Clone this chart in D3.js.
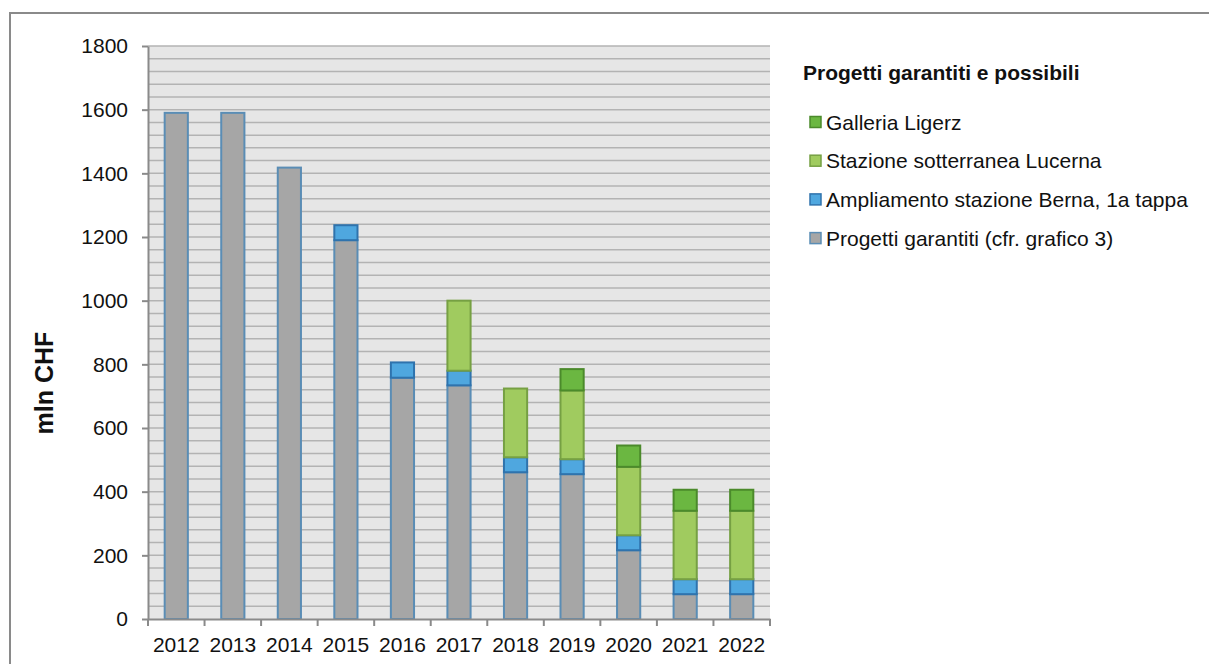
<!DOCTYPE html>
<html>
<head>
<meta charset="utf-8">
<script src="https://cdn.jsdelivr.net/npm/d3@7"></script>
<style>
  body { margin: 0; background: #fff; }
  text { font-family: "Liberation Sans", Arial, sans-serif; fill: #111; }
</style>
</head>
<body>
<div id="chart"></div>
<script>
// chart data
let years = ["2012", "2013", "2014", "2015", "2016", "2017", "2018", "2019", "2020", "2021", "2022"];
let garantiti = [1590, 1590, 1418, 1190, 758, 734, 461, 455, 216, 78, 78];
let berna = [0, 0, 0, 47, 48, 46, 47, 47, 47, 47, 47];
let lucerna = [0, 0, 0, 0, 0, 220, 216, 216, 215, 215, 215];
let ligerz = [0, 0, 0, 0, 0, 0, 0, 67, 67, 66, 66];
let yTicks = [0, 200, 400, 600, 800, 1000, 1200, 1400, 1600, 1800];

let seriesNames = ["Progetti garantiti (cfr. grafico 3)", "Ampliamento stazione Berna, 1a tappa", "Stazione sotterranea Lucerna", "Galleria Ligerz"];
let seriesFill = ["#a6a6a6", "#4fa7df", "#a0cb5f", "#6bb741"];
let seriesStroke = ["#5a8db5", "#2f73ad", "#76a043", "#4b8a2b"];

let width = 1209, height = 664;
let plot = {left: 148, right: 770, top: 46, bottom: 619};
let fontSize = "21px";

let svg = d3.select("#chart").append("svg")
    .attr("width", width)
    .attr("height", height);

// outer frame (right and bottom edges fall outside the picture)
svg.append("rect")
    .attr("x", 10).attr("y", 13)
    .attr("width", 1205).attr("height", 660)
    .attr("fill", "none")
    .attr("stroke", "#8a8a8a")
    .attr("stroke-width", 2);

let x = d3.scaleBand().domain(years).range([plot.left, plot.right]).paddingInner(0.59).paddingOuter(0.295);
let xb = d3.scaleBand().domain(years).range([plot.left, plot.right]);
let y = d3.scaleLinear().domain([0, 1800]).range([plot.bottom, plot.top]);

svg.append("rect")
    .attr("x", plot.left).attr("y", plot.top)
    .attr("width", plot.right - plot.left).attr("height", plot.bottom - plot.top)
    .attr("fill", "#e6e6e6");

// gridlines every 40
svg.append("g")
    .selectAll("line")
    .data(d3.range(40, 1801, 40))
    .enter().append("line")
    .attr("x1", plot.left).attr("x2", plot.right)
    .attr("y1", function(d) { return y(d); })
    .attr("y2", function(d) { return y(d); })
    .attr("stroke", "#b3b3b3")
    .attr("stroke-width", 1.5);

// stack the series
let table = years.map(function(yr, i) {
    return {year: yr, s0: garantiti[i], s1: berna[i], s2: lucerna[i], s3: ligerz[i]};
});
let stack = d3.stack().keys(["s0", "s1", "s2", "s3"])(table);

stack.forEach(function(layer, k) {
    svg.append("g")
        .selectAll("rect")
        .data(layer.filter(function(d) { return d[1] > d[0]; }))
        .enter().append("rect")
        .attr("x", function(d) { return x(d.data.year); })
        .attr("width", x.bandwidth())
        .attr("y", function(d) { return y(d[1]); })
        .attr("height", function(d) { return y(d[0]) - y(d[1]); })
        .attr("fill", seriesFill[k])
        .attr("stroke", seriesStroke[k])
        .attr("stroke-width", 2);
});

// y axis
let yAxis = svg.append("g")
    .attr("transform", "translate(" + plot.left + ",0)")
    .call(d3.axisLeft(y).tickValues(yTicks).tickFormat(d3.format("d")).tickSize(6).tickPadding(14).tickSizeOuter(0));
yAxis.select(".domain").attr("stroke", "#8a8a8a").attr("stroke-width", 2);
yAxis.selectAll(".tick line").attr("stroke", "#8a8a8a").attr("stroke-width", 2);
yAxis.selectAll("text").style("font-size", fontSize).attr("fill", "#111");

// x axis
let xAxis = svg.append("g")
    .attr("transform", "translate(0," + plot.bottom + ")")
    .call(d3.axisBottom(xb).tickSize(0).tickPadding(18));
xAxis.select(".domain").attr("stroke", "#8a8a8a").attr("stroke-width", 2);
xAxis.selectAll("text").style("font-size", fontSize).attr("fill", "#111");
xAxis.selectAll(".sep")
    .data(d3.range(years.length + 1))
    .enter().append("line")
    .attr("x1", function(i) { return plot.left + i * xb.step(); })
    .attr("x2", function(i) { return plot.left + i * xb.step(); })
    .attr("y1", 0).attr("y2", 7)
    .attr("stroke", "#8a8a8a")
    .attr("stroke-width", 2);

// y label
svg.append("text")
    .attr("transform", "translate(53,383) rotate(-90)")
    .attr("text-anchor", "middle")
    .style("font-size", "25px")
    .style("font-weight", "bold")
    .text("mln CHF");

// legend
svg.append("text")
    .attr("x", 803).attr("y", 80)
    .style("font-size", fontSize)
    .style("font-weight", "bold")
    .text("Progetti garantiti e possibili");

let legendOrder = [3, 2, 1, 0];
let legend = svg.append("g")
    .selectAll("g")
    .data(legendOrder)
    .enter().append("g")
    .attr("transform", function(k, i) { return "translate(810," + (122 + i * 38.7) + ")"; });

legend.append("rect")
    .attr("x", 0).attr("y", -5.5)
    .attr("width", 11).attr("height", 11)
    .attr("fill", function(k) { return seriesFill[k]; })
    .attr("stroke", function(k) { return seriesStroke[k]; })
    .attr("stroke-width", 1.5);

legend.append("text")
    .attr("x", 16).attr("y", 7.5)
    .style("font-size", fontSize)
    .text(function(k) { return seriesNames[k]; });
</script>
</body>
</html>
